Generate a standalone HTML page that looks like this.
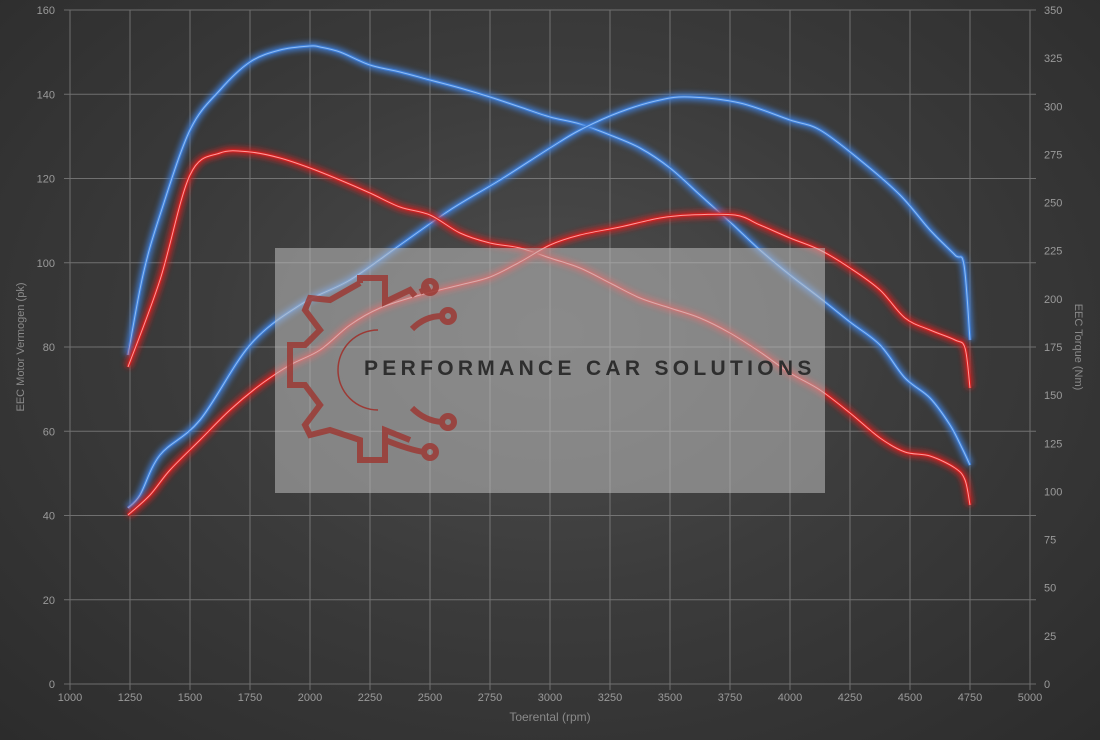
<!DOCTYPE html>
<html><head><meta charset="utf-8"><style>
html,body{margin:0;padding:0;background:#333;}
#c{width:1100px;height:740px;position:relative;background:radial-gradient(ellipse at 50% 45%,#4d4d4d 0%,#3c3c3c 45%,#2c2c2c 100%);overflow:hidden;font-family:"Liberation Sans",sans-serif;}
svg{position:absolute;left:0;top:0}
</style></head><body><div id="c">
<svg id="s" width="1100" height="740" xmlns="http://www.w3.org/2000/svg">
<defs>
<filter id="gb" x="-10%" y="-10%" width="120%" height="120%"><feGaussianBlur stdDeviation="3"/></filter>
</defs>
<g id="grid" stroke="#a0a0a0" stroke-width="1" opacity="0.55"></g>
<g id="lbl" fill="#9a9a9a" font-size="11"></g>
<g id="curves"></g>
<rect x="275" y="248" width="550" height="245" fill="rgba(190,190,190,0.55)"/>
<g fill="none" stroke="#9c3a35" stroke-width="6" opacity="0.85" stroke-linejoin="miter">
<path d="M360,283 L360,278 L385,278 L385,302 L410,290 L415,296 M360,283 L330,300 L310,298 L305,310 L320,330 L305,345 L290,345 L290,385 L305,385 L320,405 L305,425 L310,435 L330,430 L360,440 L360,460 L385,460 L385,430 L410,440"/>
<path d="M420,292 L430,287" />
<circle cx="430" cy="287" r="6"/><circle cx="448" cy="316" r="6"/><circle cx="448" cy="422" r="6"/><circle cx="430" cy="452" r="6"/>
<path d="M412,329 Q425,316 442,316 M412,408 Q425,421 442,422 M385,440 Q410,450 424,452"/>
</g>
<path d="M378,330 A40,40 0 0 0 378,410" fill="none" stroke="#9c3a35" stroke-width="1.5"/>
<text x="364" y="375" font-size="21" font-weight="bold" letter-spacing="4.3" fill="#2e2e2e">PERFORMANCE CAR SOLUTIONS</text>
<text x="550" y="721" text-anchor="middle" font-size="12" fill="#8a8a8a">Toerental (rpm)</text>
<text transform="translate(24,347) rotate(-90)" text-anchor="middle" font-size="11" fill="#8a8a8a">EEC Motor Vermogen (pk)</text>
<text transform="translate(1075,347) rotate(90)" text-anchor="middle" font-size="11" fill="#8a8a8a">EEC Torque (Nm)</text>
</svg>
</div>
<script>
var NS="http://www.w3.org/2000/svg";
function el(p,t,a,txt){var e=document.createElementNS(NS,t);for(var k in a)e.setAttribute(k,a[k]);if(txt!==undefined)e.textContent=txt;document.getElementById(p).appendChild(e);return e;}
for(var i=0;i<=16;i++){var x=70+i*60;el("grid","line",{x1:x,y1:10,x2:x,y2:690});el("lbl","text",{x:x,y:701,"text-anchor":"middle"},1000+i*250);}
for(var j=0;j<=8;j++){var y=684-j*84.25;el("grid","line",{x1:64,y1:y,x2:1036,y2:y});el("lbl","text",{x:55,y:y+4,"text-anchor":"end"},j*20);}
for(var k=0;k<=14;k++){var y2=684-k*674/14;el("lbl","text",{x:1044,y:y2+4},k*25);}
function path(p){var d="M"+p[0][0]+","+p[0][1];for(var i=0;i<p.length-1;i++){var p0=p[i-1]||p[i],p1=p[i],p2=p[i+1],p3=p[i+2]||p2;
d+=" C"+(p1[0]+(p2[0]-p0[0])/6)+","+(p1[1]+(p2[1]-p0[1])/6)+" "+(p2[0]-(p3[0]-p1[0])/6)+","+(p2[1]-(p3[1]-p1[1])/6)+" "+p2[0]+","+p2[1];}return d;}
var A=[[128,355],[143,275],[160,215],[190,130],[220,90],[250,62],[280,50],[310,46],[320,47],[340,52],[370,65],[400,72],[430,80],[460,88],[490,97],[520,107],[550,117],[580,124],[610,135],[640,148],[670,168],[700,195],[730,222],[760,250],[790,275],[820,298],[850,322],[880,345],[905,378],[930,398],[950,425],[962,448],[970,465]];
var B=[[128,508],[140,495],[160,455],[200,420],[250,345],[300,305],[350,280],[400,245],[450,210],[500,180],[550,148],[580,130],[620,112],[660,100],[690,97],[740,103],[790,120],[820,130],[860,160],[900,195],[930,230],[955,255],[964,265],[970,340]];
var C=[[128,367],[160,280],[190,175],[220,153],[250,152],[280,158],[310,168],[340,180],[370,193],[400,207],[430,215],[460,233],[490,243],[520,248],[550,258],[580,268],[610,283],[640,298],[670,308],[700,318],[730,333],[760,352],[790,373],[820,390],[850,413],[880,438],[905,452],[930,456],[955,468],[965,480],[970,505]];
var D=[[128,515],[150,495],[170,470],[200,440],[230,410],[260,385],[290,365],[320,350],[350,325],[380,308],[420,295],[460,285],[490,277],[520,262],[550,245],[580,235],[620,227],[660,218],[690,215],[735,215],[760,225],[790,238],[820,250],[850,268],[880,290],[905,318],[930,330],[955,340],[965,348],[970,388]];
[[A,"#3f7fd8","#8fbdf5"],[B,"#3f7fd8","#8fbdf5"],[C,"#d42020","#ff9a9a"],[D,"#d42020","#ff9a9a"]].forEach(function(s){var d=path(s[0]);
el("curves","path",{d:d,fill:"none",stroke:s[1],"stroke-width":7,filter:"url(#gb)",opacity:0.9});
el("curves","path",{d:d,fill:"none",stroke:s[1],"stroke-width":3});
el("curves","path",{d:d,fill:"none",stroke:s[2],"stroke-width":1});});
</script>
</body></html>
